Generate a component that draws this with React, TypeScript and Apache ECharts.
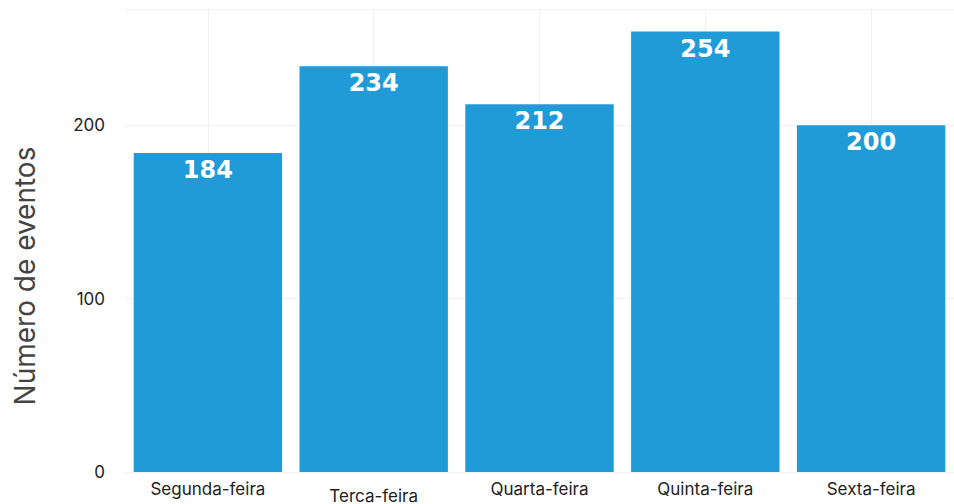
import React, { useEffect, useRef } from "react";
import * as echarts from "echarts";

const categories = ["Segunda-feira", "Terca-feira", "Quarta-feira", "Quinta-feira", "Sexta-feira"];
const values = [184, 234, 212, 254, 200];
const yAxisTitle = "Número de eventos";

export default function App() {
  const ref = useRef<HTMLDivElement>(null);
  useEffect(() => {
    if (!ref.current) return;
    const chart = echarts.init(ref.current, null, { renderer: "svg" });
    chart.setOption({
      animation: false,
      backgroundColor: "#ffffff",
      grid: { left: 125, top: 9, width: 833, bottom: 31, containLabel: false },
      xAxis: [
        {
          type: "category",
          data: categories.map((c, i) =>
            i === 1 ? { value: c, textStyle: { padding: [7, 0, 0, 0] } } : c
          ),
          axisLine: { show: false },
          axisTick: { show: false },
          splitLine: { show: false },
          axisLabel: {
            color: "#222",
            fontFamily: "Inter",
            fontSize: 17,
            margin: 8,
            interval: 0,
          },
        },
        {
          type: "value",
          min: 0,
          max: categories.length * 2,
          interval: 1,
          show: true,
          position: "top",
          axisLine: { show: false },
          axisTick: { show: false },
          axisLabel: { show: false },
          splitLine: {
            show: true,
            lineStyle: { color: ["rgba(0,0,0,0)", "#efefef"], width: 1 },
          },
        },
      ],
      yAxis: {
        type: "value",
        min: 0,
        max: 267,
        interval: 100,
        axisLine: { show: false },
        axisTick: { show: false },
        splitLine: { show: true, lineStyle: { color: "#f2f2f2", width: 1 } },
        axisLabel: {
          color: "#222",
          fontFamily: "Inter",
          fontSize: 17,
          margin: 20,
          showMaxLabel: false,
        },
      },
      graphic: [
        {
          type: "text",
          x: 25,
          y: 276,
          rotation: Math.PI / 2,
          style: {
            text: yAxisTitle,
            fontFamily: "Inter",
            fontSize: 28,
            fill: "#444",
            align: "center",
            verticalAlign: "middle",
          },
        },
      ],
      series: [
        {
          type: "bar",
          xAxisIndex: 0,
          data: values,
          barCategoryGap: "10.5%",
          itemStyle: { color: "#219bd8" },
          label: {
            show: true,
            position: "insideTop",
            distance: 5,
            color: "#ffffff",
            fontFamily: "DejaVu Sans",
            fontWeight: "bold",
            fontSize: 24,
          },
        },
      ],
    });
    return () => chart.dispose();
  }, []);
  return (
    <div
      ref={ref}
      style={{ position: "absolute", left: 0, top: 0, width: 954, height: 504 }}
    />
  );
}
